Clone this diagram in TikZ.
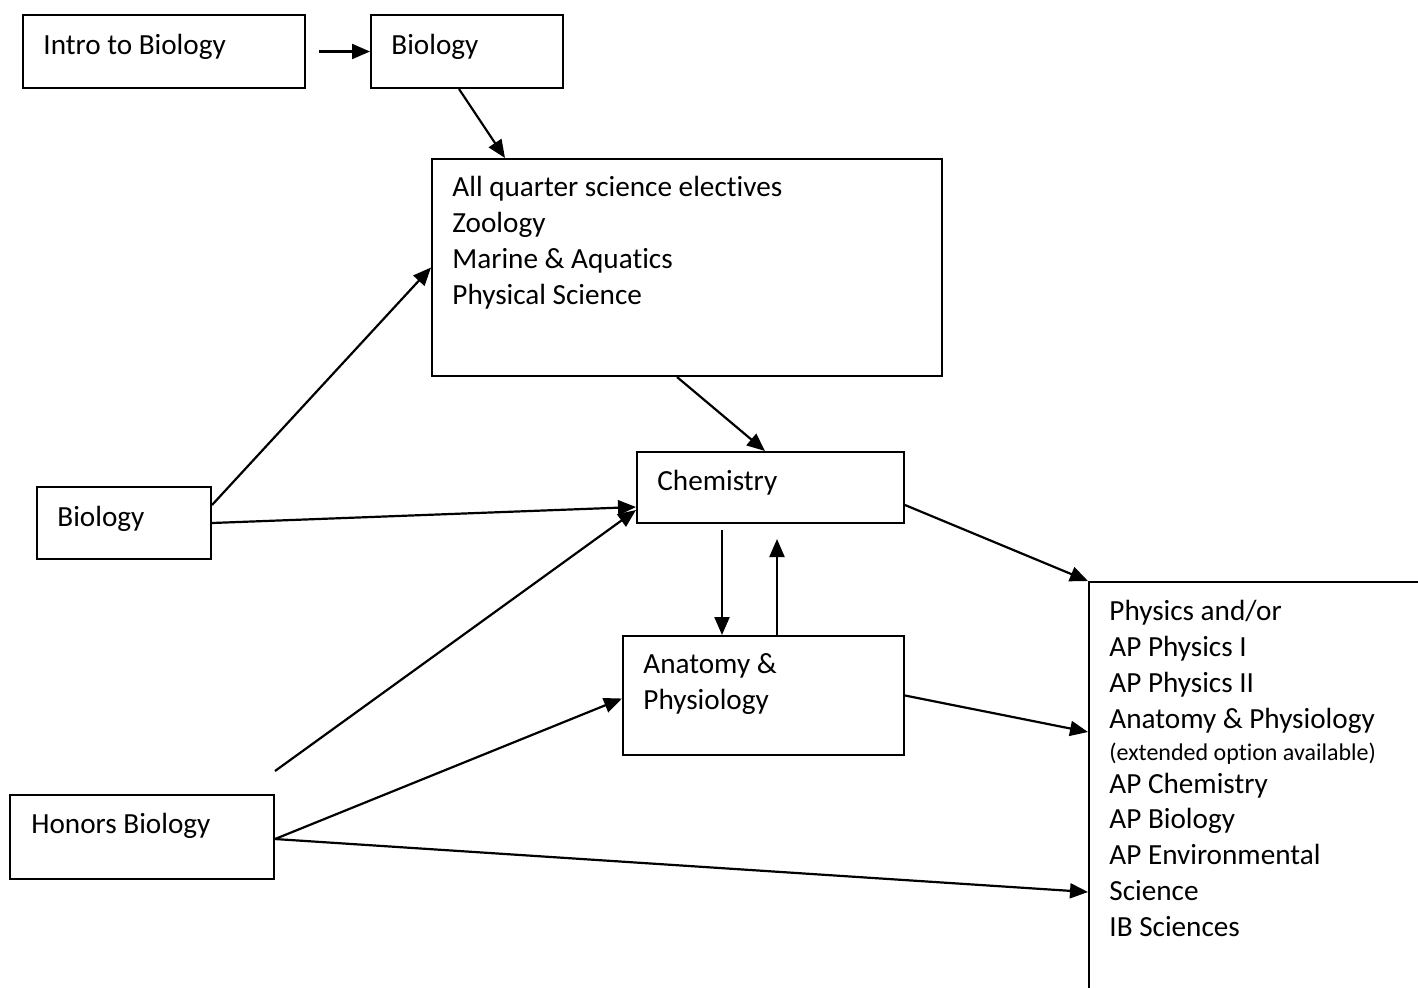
\documentclass[tikz,border=0pt]{standalone}
\usepackage{fontspec}
\setmainfont[RawFeature={-liga;-clig;-dlig;-calt}]{Carlito}
\usetikzlibrary{arrows.meta}
\newcommand\stacklines[1]{\vtop{\baselineskip=18pt\lineskiplimit=-100pt #1}}
\tikzset{
  box/.style={draw, line width=1pt, inner sep=0pt, anchor=north west},
  txt/.style={inner sep=0pt, anchor=base west, font=\fontsize{14.6}{18}\selectfont},
  conn/.style={line width=1.1pt, -{Triangle[length=9pt,width=7.5pt]}},
}
\begin{document}
\begin{tikzpicture}[x=0.5pt, y=-0.5pt]
\useasboundingbox (0,0) rectangle (1418,987);
\clip (0,0) rectangle (1418,987);
% boxes
\node[box, minimum width=141pt, minimum height=36.5pt] (intro) at (22,14) {};
\node[box, minimum width=96pt, minimum height=36.5pt] (bio1) at (370,14) {};
\node[box, minimum width=255pt, minimum height=108.5pt] (elect) at (431,158) {};
\node[box, minimum width=133.5pt, minimum height=35.5pt] (chem) at (636,451) {};
\node[box, minimum width=87pt, minimum height=36pt] (bio2) at (36,486) {};
\node[box, minimum width=140.5pt, minimum height=59.5pt] (anat) at (622,635) {};
\node[box, minimum width=132pt, minimum height=42pt] (hon) at (9,794) {};
\node[box, minimum width=220pt, minimum height=240pt] (right) at (1088,581) {};
% texts
\node[txt] (introT) at (43,54) {Intro to Biology};
\node[txt] (bio1T) at (391,54) {Biology};
\node[txt] (electT) at (452,196) {\stacklines{\hbox{All quarter science electives}\hbox{Zoology}\hbox{Marine \& Aquatics}\hbox{Physical Science}}};
\node[txt] (chemT) at (657,490) {Chemistry};
\node[txt] (bio2T) at (57,526) {Biology};
\node[txt] (anatT) at (643,673) {\stacklines{\hbox{Anatomy \&}\hbox{Physiology}}};
\node[txt] (honT) at (31,833) {Honors Biology};
\node[txt] (rightT) at (1109,620) {\stacklines{%
\hbox{Physics and/or}\hbox{AP Physics I}\hbox{AP Physics II}\hbox{Anatomy \& Physiology}%
\baselineskip=16pt\hbox{\fontsize{12}{14}\selectfont (extended option available)}%
\baselineskip=16.5pt\hbox{AP Chemistry}%
\baselineskip=17.5pt\hbox{AP Biology}%
\baselineskip=18pt\hbox{AP Environmental}\hbox{Science}\hbox{IB Sciences}}};
% connectors
\draw[conn] ([xshift=6.5pt]intro.east) -- (bio1.west);
\draw[conn] ([xshift=44.5pt]bio1.south west) -- ([xshift=37pt]elect.north west);
\draw[conn] ([xshift=123pt]elect.south west) -- ([xshift=64.5pt]chem.north west);
\draw[conn] ([yshift=-9.5pt]bio2.north east) -- (elect.west);
\draw[conn] (bio2.east) -- ([yshift=8.5pt]chem.south west);
\draw[conn] ([yshift=11.5pt]hon.north east) -- ([yshift=7pt]chem.south west);
\draw[conn] ([yshift=-1pt]hon.east) -- ([yshift=-1.5pt]anat.west);
\draw[conn] ([yshift=-1pt]hon.east) -- ([yshift=-155.5pt]right.north west);
\draw[conn] ([yshift=9.5pt]chem.south east) -- (right.north west);
\draw[conn] (anat.east) -- ([yshift=-75.5pt]right.north west);
\draw[conn] ([xshift=43pt,yshift=-3pt]chem.south west) -- ([xshift=50pt]anat.north west);
\draw[conn] ([xshift=77.5pt]anat.north west) -- ([xshift=70.5pt,yshift=-7.5pt]chem.south west);
\end{tikzpicture}
\end{document}
